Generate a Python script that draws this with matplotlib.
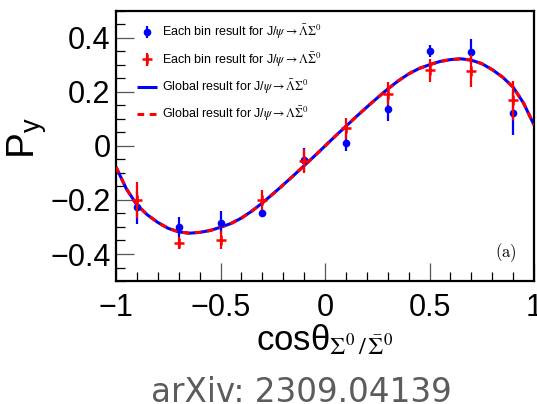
import numpy as np
import matplotlib
matplotlib.use("Agg")
import matplotlib.pyplot as plt
from matplotlib.ticker import MultipleLocator

plt.rcParams['font.family'] = ['Liberation Sans', 'DejaVu Sans']

# per-bin polarization, J/psi -> anti-Lambda Sigma0
bins = [-0.9, -0.7, -0.5, -0.3, -0.1, 0.1, 0.3, 0.5, 0.7, 0.9]
py_bar = [-0.227, -0.301, -0.284, -0.247, -0.052, 0.010, 0.137, 0.353, 0.349, 0.123]
err_bar = [0.062, 0.037, 0.043, 0.015, 0.045, 0.029, 0.044, 0.022, 0.047, 0.082]

# per-bin polarization, J/psi -> Lambda anti-Sigma0
py_cc = [-0.200, -0.360, -0.348, -0.200, -0.056, 0.065, 0.193, 0.281, 0.278, 0.170]
err_cc = [0.065, 0.022, 0.033, 0.038, 0.044, 0.039, 0.043, 0.043, 0.059, 0.072]

# global fit curve (same for both modes)
fit_x = [-1.0, -0.95, -0.9, -0.85, -0.8, -0.75, -0.7, -0.65, -0.6, -0.55, -0.5,
         -0.45, -0.4, -0.35, -0.3, -0.25, -0.2, -0.15, -0.1, -0.05, 0.0,
         0.05, 0.1, 0.15, 0.2, 0.25, 0.3, 0.35, 0.4, 0.45, 0.5,
         0.55, 0.6, 0.65, 0.7, 0.75, 0.8, 0.85, 0.9, 0.95, 1.0]
fit_y = [-0.078, -0.159, -0.218, -0.255, -0.283, -0.305, -0.318, -0.323, -0.320, -0.313, -0.301,
         -0.287, -0.267, -0.241, -0.211, -0.178, -0.144, -0.109, -0.073, -0.037, 0.0,
         0.037, 0.073, 0.109, 0.144, 0.178, 0.211, 0.241, 0.267, 0.287, 0.301,
         0.313, 0.320, 0.323, 0.318, 0.305, 0.283, 0.255, 0.218, 0.159, 0.078]

fig = plt.figure(figsize=(5.37, 4.04), dpi=100)
ax = fig.add_axes([116 / 537, 1 - 281 / 404, (534 - 116) / 537, 270 / 404])

l_bar, = ax.plot(fit_x, fit_y, color='blue', lw=2.2, solid_capstyle='butt', zorder=2)
l_cc, = ax.plot(fit_x, fit_y, color='red', lw=2.2, dashes=(2.2, 1.8), zorder=3)

e_bar = ax.errorbar(bins, py_bar, yerr=err_bar, fmt='o', color='blue', ms=4.5,
                    elinewidth=1.6, capsize=0, zorder=4)
e_cc = ax.errorbar(bins, py_cc, yerr=err_cc, fmt='+', color='red', ms=7, mew=1.8,
                   elinewidth=1.6, capsize=0, zorder=5)

ax.set_xlim(-1, 1)
ax.set_ylim(-0.5, 0.5)
ax.xaxis.set_major_locator(MultipleLocator(0.5))
ax.xaxis.set_minor_locator(MultipleLocator(0.1))
ax.yaxis.set_major_locator(MultipleLocator(0.2))
ax.yaxis.set_minor_locator(MultipleLocator(0.05))
ax.set_xticks([-1, -0.5, 0, 0.5, 1])
ax.set_xticklabels(['\u22121', '\u22120.5', '0', '0.5', '1'])
ax.set_yticks([-0.4, -0.2, 0, 0.2, 0.4])
ax.set_yticklabels(['\u22120.4', '\u22120.2', '0', '0.2', '0.4'])
ax.tick_params(which='both', direction='in', top=False, right=False, labelsize=22)
ax.tick_params(which='major', length=13, width=0.9, color='#555555')
ax.tick_params(which='minor', length=6.5, width=0.9, color='black')
ax.tick_params(axis='x', pad=9)
ax.tick_params(axis='y', pad=4)
for s in ax.spines.values():
    s.set_linewidth(1.6)

ax.set_xlabel('cos\u03b8$_{\\mathrm{\\Sigma^{0}\\,/\\,\\bar{\\Sigma}^{0}}}$', fontsize=25,
              math_fontfamily='stix')
ax.xaxis.set_label_coords(0.5, -0.155)
ax.set_ylabel('P$_{\\mathregular{y}}$', fontsize=28)
ax.yaxis.set_label_coords(-0.16, 0.53)

ax.text(0.932, 0.105, r'$\mathrm{(a)}$', transform=ax.transAxes, fontsize=12,
        ha='center', va='center', math_fontfamily='cm')

labels = [r'Each bin result for J/$\psi\rightarrow\mathrm{\bar{\Lambda}\Sigma^{0}}$',
          r'Each bin result for J/$\psi\rightarrow\mathrm{\Lambda\bar{\Sigma}^{0}}$',
          r'Global result for J/$\psi\rightarrow\mathrm{\bar{\Lambda}\Sigma^{0}}$',
          r'Global result for J/$\psi\rightarrow\mathrm{\Lambda\bar{\Sigma}^{0}}$']
leg = ax.legend([e_bar, e_cc, l_bar, l_cc], labels, loc='upper left',
                bbox_to_anchor=(0.05, 0.955), frameon=False, fontsize=9.0,
                handlelength=1.6, handletextpad=0.4, labelspacing=0.72,
                borderaxespad=0, borderpad=0)
for t in leg.get_texts():
    t.set_math_fontfamily('stix')

fig.text(0.562, 0.006, 'arXiv: 2309.04139', color='#5c5c5c', fontsize=23.5,
         family='DejaVu Sans', ha='center', va='baseline')

fig.savefig('out.png', dpi=100)
